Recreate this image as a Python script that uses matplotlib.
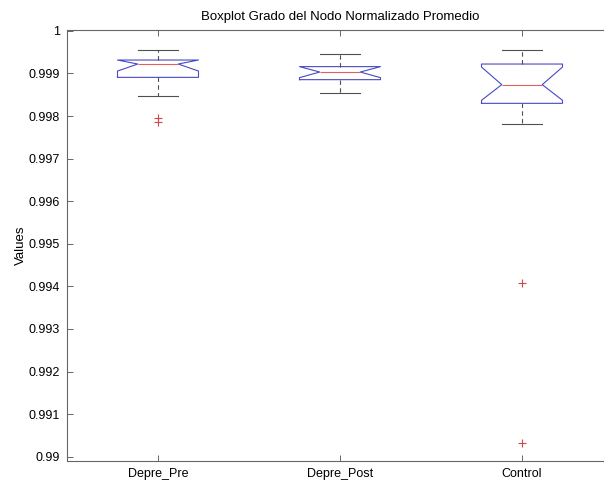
import numpy as np
import matplotlib.pyplot as plt

plt.rcParams['font.family'] = ['Liberation Sans', 'DejaVu Sans']

# Box statistics per group
groups = ['Depre_Pre', 'Depre_Post', 'Control']
q1 = [0.998908, 0.998854, 0.998298]
q3 = [0.999315, 0.999160, 0.999221]
med = [0.999221, 0.999033, 0.998737]
ci_lo = [0.999056, 0.998901, 0.998369]
ci_hi = [0.999315, 0.999160, 0.999150]
whis_lo = [0.998469, 0.998549, 0.997805]
whis_hi = [0.999549, 0.999465, 0.999542]
outliers = [[0.997953, 0.997859], [], [0.994089, 0.990324]]

stats = []
for i, name in enumerate(groups):
    stats.append(dict(label=name, q1=q1[i], q3=q3[i], med=med[i],
                      cilo=ci_lo[i], cihi=ci_hi[i],
                      whislo=whis_lo[i], whishi=whis_hi[i],
                      fliers=np.array(outliers[i])))

fig = plt.figure(figsize=(6.04, 4.82), dpi=100)
# axes run a little past the right edge of the figure
ax = fig.add_axes([67 / 604, 1 - 461 / 482, 546 / 604, 431 / 482])

ax.bxp(stats, positions=[1, 2, 3], widths=0.445, shownotches=True,
       boxprops=dict(color='#4848c8', linewidth=0.8),
       medianprops=dict(color='#e06060', linewidth=0.8, zorder=3),
       whiskerprops=dict(color='#505050', linewidth=0.8, linestyle=(0, (4, 3))),
       capprops=dict(color='#505050', linewidth=0.8),
       flierprops=dict(marker='+', markeredgecolor='#d04848', markersize=6,
                       markeredgewidth=0.8, linestyle='none'))

ax.set_xlim(0.5, 3.5)
ax.set_ylim(0.98990, 1.00002)
ax.set_yticks(np.arange(0.990, 1.0001, 0.001))
ax.set_yticklabels(['0.99', '0.991', '0.992', '0.993', '0.994', '0.995',
                    '0.996', '0.997', '0.998', '0.999', '1'])
ax.set_xticks([1, 2, 3])
ax.set_xticklabels(groups)

ax.spines['right'].set_visible(False)
for s in ax.spines.values():
    s.set_color('#666666')
    s.set_linewidth(0.8)
ax.tick_params(direction='in', length=4, width=0.7, color='#666666',
               top=True, right=False, labelsize=9, pad=5)

ax.set_ylabel('Values', fontsize=9.5, labelpad=1)
ax.set_title('Boxplot Grado del Nodo Normalizado Promedio', fontsize=9.5, pad=7)

fig.savefig('out.png', dpi=100)
